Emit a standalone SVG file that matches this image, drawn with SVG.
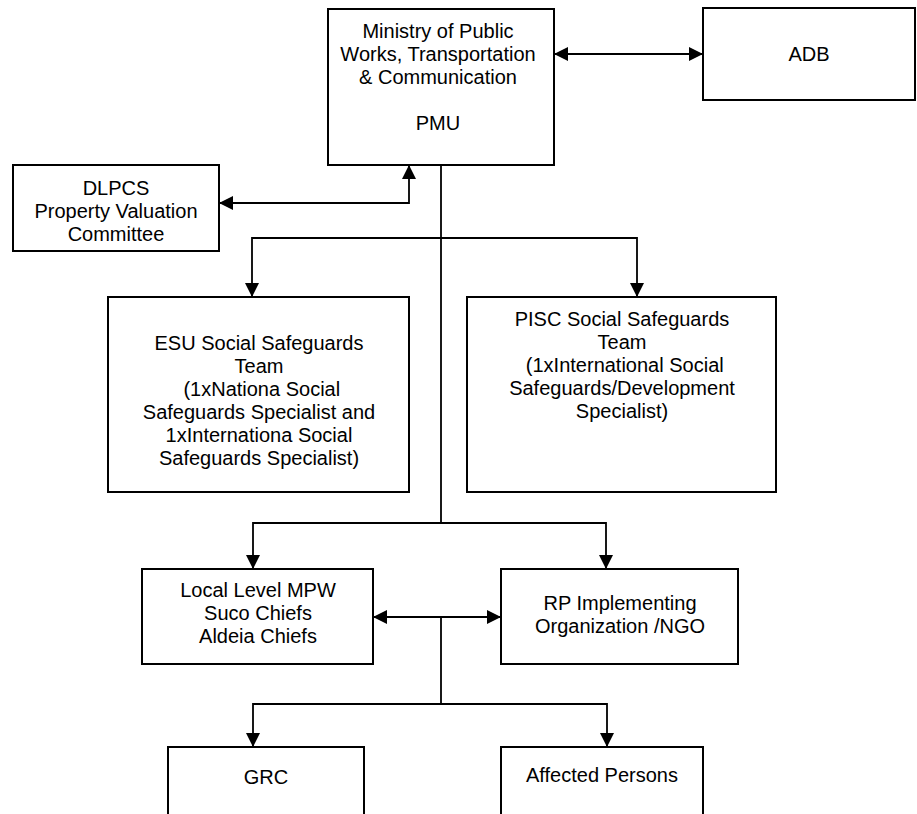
<svg xmlns="http://www.w3.org/2000/svg" width="917" height="814" viewBox="0 0 917 814">
<style>
.box{fill:#fff;stroke:#000;stroke-width:2}
.t{font-family:"Liberation Sans",Arial,sans-serif;font-size:20px;fill:#000;text-anchor:middle;white-space:pre}
.ln{fill:none;stroke:#000;stroke-width:1.8}
</style>
<defs>
<marker id="ah" markerUnits="userSpaceOnUse" markerWidth="14" markerHeight="14" refX="14" refY="7" orient="auto-start-reverse" viewBox="0 0 14 14">
<path d="M0,0 L14,7 L0,14 z" fill="#000"/>
</marker>
</defs>
<rect width="917" height="814" fill="#fff"/>
<g id="connectors">
<line class="ln" x1="554" y1="54" x2="703" y2="54" marker-start="url(#ah)" marker-end="url(#ah)"/>
<polyline class="ln" points="409,165 409,203 219,203" marker-start="url(#ah)" marker-end="url(#ah)"/>
<line class="ln" x1="441" y1="165" x2="441" y2="523"/>
<polyline class="ln" points="252,297 252,238 637,238 637,297" marker-start="url(#ah)" marker-end="url(#ah)"/>
<polyline class="ln" points="253,569 253,523 606,523 606,569" marker-start="url(#ah)" marker-end="url(#ah)"/>
<line class="ln" x1="373" y1="617" x2="501" y2="617" marker-start="url(#ah)" marker-end="url(#ah)"/>
<line class="ln" x1="441" y1="617" x2="441" y2="704"/>
<polyline class="ln" points="253,747 253,704 607,704 607,747" marker-start="url(#ah)" marker-end="url(#ah)"/>
</g>
<g id="ministry">
<rect class="box" x="328" y="9" width="226" height="156"/>
<text class="t" x="438" y="38">Ministry of Public</text>
<text class="t" x="438" y="61">Works, Transportation</text>
<text class="t" x="438" y="84">&amp; Communication</text>
<text class="t" x="438" y="130">PMU</text>
</g>
<g id="adb">
<rect class="box" x="703" y="8" width="212" height="92"/>
<text class="t" x="809" y="61">ADB</text>
</g>
<g id="dlpcs">
<rect class="box" x="13" y="165" width="206" height="86"/>
<text class="t" x="116" y="195">DLPCS</text>
<text class="t" x="116" y="218">Property Valuation</text>
<text class="t" x="116" y="241">Committee</text>
</g>
<g id="esu">
<rect class="box" x="108" y="297" width="301" height="195"/>
<text class="t" x="259" y="350">ESU Social Safeguards</text>
<text class="t" x="259" y="373">Team</text>
<text class="t" x="259" y="396"> (1xNationa Social</text>
<text class="t" x="259" y="419">Safeguards Specialist and</text>
<text class="t" x="259" y="442">1xInternationa Social</text>
<text class="t" x="259" y="465">Safeguards Specialist)</text>
</g>
<g id="pisc">
<rect class="box" x="467" y="297" width="309" height="195"/>
<text class="t" x="622" y="326">PISC Social Safeguards</text>
<text class="t" x="622" y="349">Team</text>
<text class="t" x="622" y="372"> (1xInternational Social</text>
<text class="t" x="622" y="395">Safeguards/Development</text>
<text class="t" x="622" y="418">Specialist)</text>
</g>
<g id="local">
<rect class="box" x="142" y="569" width="231" height="95"/>
<text class="t" x="258" y="597">Local Level MPW</text>
<text class="t" x="258" y="620">Suco Chiefs</text>
<text class="t" x="258" y="643">Aldeia Chiefs</text>
</g>
<g id="rp">
<rect class="box" x="501" y="569" width="237" height="95"/>
<text class="t" x="620" y="610">RP Implementing</text>
<text class="t" x="620" y="633">Organization /NGO</text>
</g>
<g id="grc">
<rect class="box" x="168" y="747" width="196" height="80"/>
<text class="t" x="266" y="784">GRC</text>
</g>
<g id="affected">
<rect class="box" x="501" y="747" width="202" height="80"/>
<text class="t" x="602" y="782">Affected Persons</text>
</g>
</svg>
